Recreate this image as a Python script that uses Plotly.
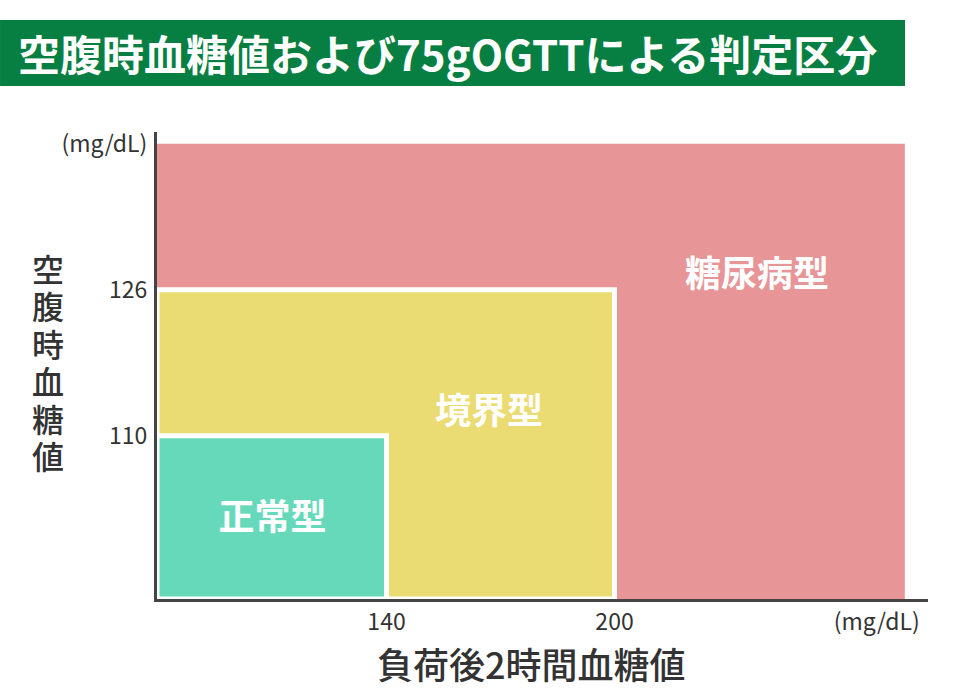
import plotly.graph_objects as go

# judgement categories, drawn from the largest region to the smallest
categories = ["糖尿病型", "境界型", "正常型"]
ogtt_upper = [276.4, 200, 140]      # 負荷後2時間血糖値 upper bound (mg/dL)
fpg_upper = [142, 126, 110]         # 空腹時血糖値 upper bound (mg/dL)
fill_colors = ["#e79597", "#eadb73", "#67d9bb"]
label_x = [237.5, 167, 110]
label_y = [127.3, 112.3, 100.6]

x_min, y_min = 79.6, 92.1

x_ticks = [140, 200, 269]
x_ticktext = ["140", "200", "(mg/dL)"]
y_ticks = [110, 126, 142]
y_ticktext = ["110", "126", "(mg/dL)"]

title_text = "空腹時血糖値および75gOGTTによる判定区分"
x_title = "負荷後2時間血糖値"
y_title = "空腹時血糖値"

FONT = "Noto Sans CJK JP"

fig = go.Figure()

for cat, xu, yu, col in zip(categories, ogtt_upper, fpg_upper, fill_colors):
    fig.add_trace(go.Scatter(
        x=[x_min, xu, xu, x_min, x_min],
        y=[y_min, y_min, yu, yu, y_min],
        mode='lines',
        fill='toself',
        fillcolor=col,
        line=dict(color='white', width=0 if cat == "糖尿病型" else 5),
        hoverinfo='skip',
        showlegend=False
    ))

fig.add_trace(go.Scatter(
    x=label_x,
    y=label_y,
    mode='text',
    text=categories,
    textfont=dict(family=FONT, size=36, color='white', weight='bold'),
    hoverinfo='skip',
    showlegend=False
))

# green banner behind the title
fig.add_shape(
    type='rect', xref='paper', yref='paper',
    x0=-0.2036, x1=0.9702, y0=1.0985, y1=1.2398,
    fillcolor='#087f42', line=dict(width=0), layer='below'
)

annotations = [
    dict(
        text=title_text,
        xref='paper', yref='paper',
        x=-0.1829, y=1.1692,
        xanchor='left', yanchor='middle',
        showarrow=False,
        font=dict(family=FONT, size=42, color='white', weight='bold')
    ),
    dict(
        text=x_title,
        xref='paper', yref='paper',
        x=0.486, y=-0.137,
        xanchor='center', yanchor='middle',
        showarrow=False,
        font=dict(family=FONT, size=36, color='#333333', weight=500)
    ),
]
# vertical y-axis title, one character per line
for i, ch in enumerate(y_title):
    annotations.append(dict(
        text=ch,
        xref='paper', yref='paper',
        x=-0.141, y=(599 - 268 - 37.4 * i) / 467,
        xanchor='center', yanchor='middle',
        showarrow=False,
        font=dict(family=FONT, size=32, color='#333333', weight=500)
    ))

fig.update_layout(
    width=964,
    height=698,
    margin=dict(l=157, r=36, t=132, b=99),
    plot_bgcolor='white',
    paper_bgcolor='white',
    font=dict(family=FONT, color='#333333'),
    xaxis=dict(
        range=[x_min, 282.5],
        tickvals=x_ticks,
        ticktext=x_ticktext,
        tickfont=dict(size=23, color='#333333'),
        showgrid=False,
        zeroline=False,
        showline=True,
        linecolor='#444444',
        linewidth=3,
        ticklabelstandoff=0,
        fixedrange=True
    ),
    yaxis=dict(
        range=[y_min, 143.3],
        tickvals=y_ticks,
        ticktext=y_ticktext,
        tickfont=dict(size=23, color='#333333'),
        showgrid=False,
        zeroline=False,
        showline=True,
        linecolor='#444444',
        linewidth=3,
        ticklabelstandoff=2,
        fixedrange=True
    ),
    annotations=annotations
)

fig.write_html("out.html", config={'displayModeBar': False},
               post_script="document.body.style.margin='0';")
